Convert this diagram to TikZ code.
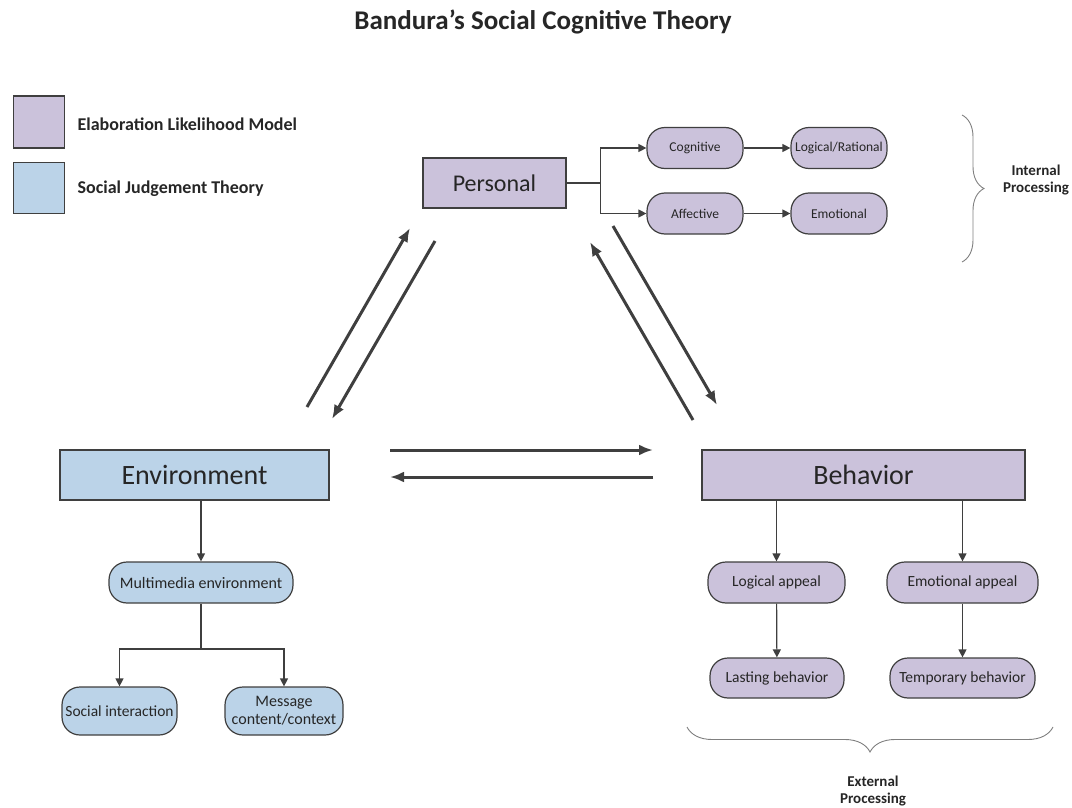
\documentclass[tikz,border=0pt]{standalone}
\usepackage{fontspec}
\setmainfont{Carlito}
\usepackage{xcolor}
\usetikzlibrary{arrows.meta,decorations.pathreplacing}
\definecolor{ELMfill}{HTML}{CBC2DB}
\definecolor{SJTfill}{HTML}{BBD3E8}
\definecolor{LineGray}{HTML}{3F3F3F}
\definecolor{TextGray}{HTML}{262626}

\begin{document}
\begin{tikzpicture}[x=1pt, y=-1pt, color=LineGray, line width=1.2pt, text=TextGray,
      every node/.append style={inner sep=2pt, font=\fontsize{15.5}{18}\selectfont},
      link/.style={-{Triangle[length=8pt,width=8pt]}},
      flow/.style={line width=3pt, -{Latex[length=14pt,width=11pt]}},
      brace/.style={decorate, decoration={brace, amplitude=#1}, line width=0.9pt, color=gray}]
    \tikzstyle{elm} = [draw, fill=ELMfill]
    \tikzstyle{sjt} = [draw, fill=SJTfill]
    \tikzstyle{big} = [font=\fontsize{28}{30}\selectfont]
    \tikzstyle{pill} = [rounded corners=18pt, minimum height=41pt, align=center]
    \tikzstyle{small} = [font=\fontsize{13.5}{16}\selectfont]
    \tikzstyle{note} = [align=center, font=\fontsize{15}{17}\selectfont\bfseries]
    \useasboundingbox (0,0) rectangle (1072,808);
    \node (title) at (543,22) [font=\fontsize{27}{30}\selectfont\bfseries] {Bandura’s Social Cognitive Theory};
    % legend
    \node (ELMkey) at (39,122) [elm, minimum width=51pt, minimum height=52pt] {};
    \node (ELMtext) at (75,124) [anchor=west, font=\fontsize{18}{20}\selectfont\bfseries] {Elaboration Likelihood Model};
    \node (SJTkey) at (39,188) [sjt, minimum width=51pt, minimum height=51pt] {};
    \node (SJTtext) at (75,189) [anchor=west, font=\fontsize{18}{20}\selectfont\bfseries] {Social Judgement Theory};
    % the three factors
    \node (Personal) at (494.5,183) [elm, minimum width=143pt, minimum height=50pt, font=\fontsize{24}{26}\selectfont] {Personal};
    \node (Environment) at (194.5,475) [sjt, big, minimum width=269pt, minimum height=50pt] {Environment};
    \node (Behavior) at (863.5,475) [elm, big, minimum width=323pt, minimum height=50pt] {Behavior};
    % internal processing
    \node (Cognitive) at (695,148) [elm, pill, small, minimum width=96pt] {Cognitive};
    \node (Affective) at (695,213.5) [elm, pill, small, minimum width=96pt] {Affective};
    \node (Rational) at (839,148) [elm, pill, small, minimum width=96pt, inner sep=1pt] {Logical/Rational};
    \node (Emotional) at (839,213.5) [elm, pill, small, minimum width=96pt] {Emotional};
    \draw[link] (Personal.east) -- ++(34,0) |- (Cognitive.west);
    \draw[link] (Personal.east) -- ++(34,0) |- (Affective.west);
    \draw[link] (Cognitive) -- (Rational);
    \draw[link] (Affective) -- (Emotional);
    \draw[brace=22pt] (962,115) -- (962,262);
    \node (internal) at (1036,180) [note] {Internal\\Processing};
    % environment
    \node (Multimedia) at (201,582.5) [sjt, pill, minimum width=184pt, font=\fontsize{16}{18}\selectfont] {Multimedia environment};
    \node (Social) at (119.5,711) [sjt, pill, minimum width=115pt, minimum height=48pt, inner sep=1pt] {Social interaction};
    \node (Message) at (284,711) [sjt, pill, minimum width=118pt, minimum height=48pt, inner sep=1pt, font=\fontsize{16}{18}\selectfont] {Message\\content/context};
    \coordinate (split) at (201,649);
    \draw[link] (Environment.south -| Multimedia) -- (Multimedia);
    \draw (Multimedia) -- (split);
    \draw[link] (split) -| (Social);
    \draw[link] (split) -| (Message);
    % behavior
    \node (Logical) at (776.5,582.5) [elm, pill, minimum width=137pt] {Logical appeal};
    \node (EmoAppeal) at (962.5,582.5) [elm, pill, minimum width=151pt] {Emotional appeal};
    \node (Lasting) at (777,678) [elm, pill, minimum width=134pt, minimum height=40pt] {Lasting behavior};
    \node (Temporary) at (962.5,678) [elm, pill, minimum width=145pt, minimum height=40pt, inner sep=1pt] {Temporary behavior};
    \draw[link] (Behavior.south -| Logical) -- (Logical);
    \draw[link] (Behavior.south -| EmoAppeal) -- (EmoAppeal);
    \draw[link] (Logical) -- (Lasting);
    \draw[link] (EmoAppeal) -- (Temporary);
    \draw[brace=25pt] (1053,727) -- (687,727);
    \node (external) at (873,791) [note] {External\\Processing};
    % reciprocal influences
    \coordinate (envUp) at (307,407);
    \coordinate (perDown) at (435,241);
    \coordinate (behUp) at (693,420);
    \coordinate (perRight) at (613,226);
    \coordinate (envRight) at (390,450);
    \coordinate (behLeft) at (653,477);
    \draw[flow] (envUp) -- (410,228);
    \draw[flow] (perDown) -- (332,419);
    \draw[flow] (behUp) -- (590,242);
    \draw[flow] (perRight) -- (717,405);
    \draw[flow] (envRight) -- (653,450);
    \draw[flow] (behLeft) -- (390,477);
\end{tikzpicture}
\end{document}
